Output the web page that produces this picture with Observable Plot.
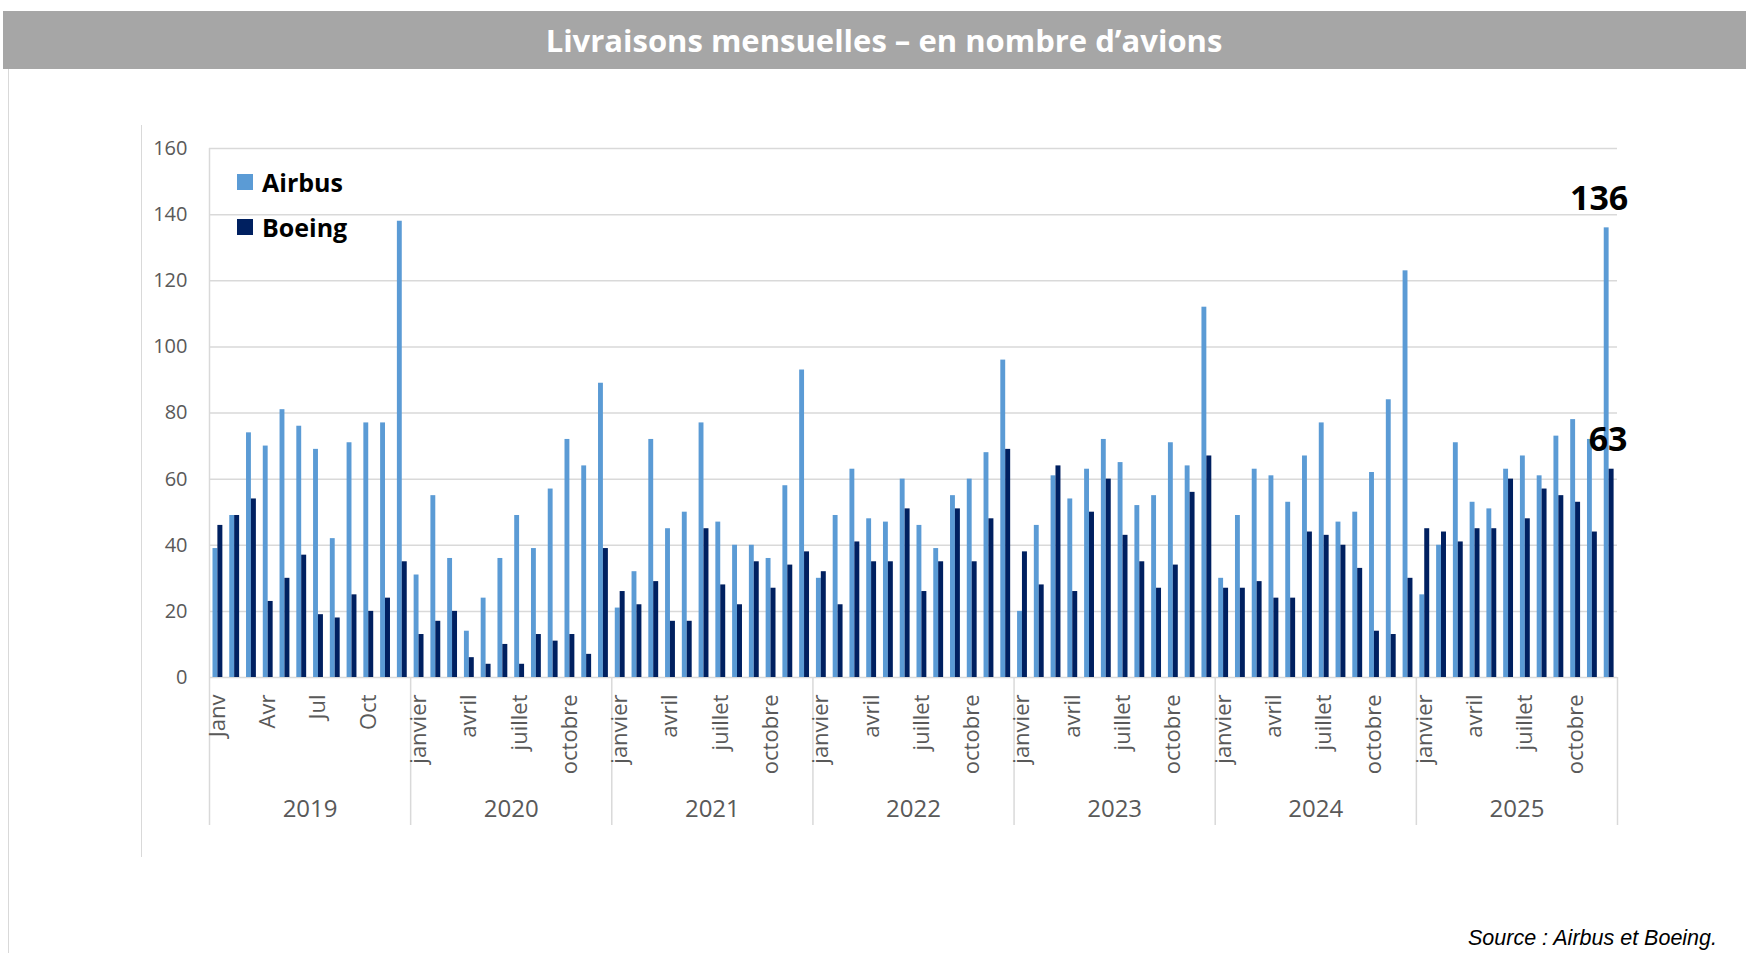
<!DOCTYPE html>
<html>
<head>
<meta charset="utf-8">
<script src="https://cdn.jsdelivr.net/npm/d3@7"></script>
<script src="https://cdn.jsdelivr.net/npm/@observablehq/plot@0.6"></script>
<style>
  html, body { margin: 0; padding: 0; background: #fff; }
  body { width: 1746px; height: 953px; position: relative; overflow: hidden; }
  #title { position: absolute; left: 3px; top: 11px; width: 1743px; height: 58px; background: #a6a6a6;
    color: #fff; font-family: "Open Sans", sans-serif; font-weight: 700; font-size: 31px;
    display: flex; align-items: center; justify-content: center; box-sizing: border-box; padding-left: 19px; }
  #chart { position: absolute; left: 0; top: 0; }
  .vline { position: absolute; width: 1px; background: #d9d9d9; }
  #legend { position: absolute; left: 237px; top: 169px; font-family: "Open Sans", sans-serif; font-weight: 700; font-size: 25px; color: #000; }
  .item { display: flex; align-items: center; height: 25px; margin-bottom: 20px; }
  .sw { width: 16px; height: 16px; margin-right: 9px; }
  #source { position: absolute; right: 29px; top: 926px; font-family: "Liberation Sans", Arial, sans-serif; font-style: italic; font-size: 21.5px; color: #000; }
</style>
</head>
<body>
<div class="vline" style="left:8px; top:69px; height:884px;"></div>
<div class="vline" style="left:141px; top:125px; height:732px;"></div>
<div id="chart"></div>
<div id="title">Livraisons mensuelles – en nombre d’avions</div>
<div id="legend"></div>
<div id="source">Source : Airbus et Boeing.</div>
<script>
// ---- Data ----
const years = [2019, 2020, 2021, 2022, 2023, 2024, 2025];
const seriesNames = ["Airbus", "Boeing"];
const seriesColors = ["#5b9bd5", "#002060"];

const airbus2019 = [39, 49, 74, 70, 81, 76, 69, 42, 71, 77, 77, 138];
const boeing2019 = [46, 49, 54, 23, 30, 37, 19, 18, 25, 20, 24, 35];
const airbus2020 = [31, 55, 36, 14, 24, 36, 49, 39, 57, 72, 64, 89];
const boeing2020 = [13, 17, 20, 6, 4, 10, 4, 13, 11, 13, 7, 39];
const airbus2021 = [21, 32, 72, 45, 50, 77, 47, 40, 40, 36, 58, 93];
const boeing2021 = [26, 22, 29, 17, 17, 45, 28, 22, 35, 27, 34, 38];
const airbus2022 = [30, 49, 63, 48, 47, 60, 46, 39, 55, 60, 68, 96];
const boeing2022 = [32, 22, 41, 35, 35, 51, 26, 35, 51, 35, 48, 69];
const airbus2023 = [20, 46, 61, 54, 63, 72, 65, 52, 55, 71, 64, 112];
const boeing2023 = [38, 28, 64, 26, 50, 60, 43, 35, 27, 34, 56, 67];
const airbus2024 = [30, 49, 63, 61, 53, 67, 77, 47, 50, 62, 84, 123];
const boeing2024 = [27, 27, 29, 24, 24, 44, 43, 40, 33, 14, 13, 30];
const airbus2025 = [25, 40, 71, 53, 51, 63, 67, 61, 73, 78, 72, 136];
const boeing2025 = [45, 44, 41, 45, 45, 60, 48, 57, 55, 53, 44, 63];

const airbusByYear = [airbus2019, airbus2020, airbus2021, airbus2022, airbus2023, airbus2024, airbus2025];
const boeingByYear = [boeing2019, boeing2020, boeing2021, boeing2022, boeing2023, boeing2024, boeing2025];

const yTicks = [0, 20, 40, 60, 80, 100, 120, 140, 160];
const labeledMonths = [1, 4, 7, 10];
const monthLabels2019 = ["Janv", "Avr", "Jul", "Oct"];
const monthLabels = ["janvier", "avril", "juillet", "octobre"];
const annotatedYear = 2025;
const annotatedMonth = 12;

// ---- Build tables ----
const keyOf = (y, m) => `${y}-${String(m).padStart(2, "0")}`;
const keys = [];
years.forEach(y => { for (let m = 1; m <= 12; m++) keys.push(keyOf(y, m)); });

const airbusRows = [], boeingRows = [];
years.forEach((y, i) => {
  airbusByYear[i].forEach((v, j) => airbusRows.push({key: keyOf(y, j + 1), value: v}));
  boeingByYear[i].forEach((v, j) => boeingRows.push({key: keyOf(y, j + 1), value: v}));
});
const monthTickRows = [];
years.forEach((y, i) => labeledMonths.forEach((m, j) =>
  monthTickRows.push({key: keyOf(y, m), label: (i === 0 ? monthLabels2019 : monthLabels)[j]})));
const yearStartKeys = years.map(y => keyOf(y, 1));
const lastKey = keys[keys.length - 1];
const annotKey = keyOf(annotatedYear, annotatedMonth);
const airbusAnnot = airbusRows.filter(d => d.key === annotKey);
const boeingAnnot = boeingRows.filter(d => d.key === annotKey);

// ---- Layout ----
const W = 1746, H = 953, mL = 209, mR = 129, mT = 148, mB = 276;
const bw = (W - mL - mR) / keys.length;
const grid = "#d9d9d9", tickColor = "#595959";

const chart = Plot.plot({
  width: W, height: H,
  marginTop: mT, marginBottom: mB, marginLeft: mL, marginRight: mR,
  style: {fontFamily: "'Open Sans', sans-serif", fontSize: "20px", color: tickColor, background: "transparent", overflow: "visible"},
  x: {type: "band", domain: keys, padding: 0, axis: null},
  y: {domain: [0, 160], ticks: yTicks, tickSize: 0, tickPadding: 22, label: null},
  marks: [
    Plot.ruleY(yTicks, {stroke: grid, strokeWidth: 1.5}),
    Plot.barY(airbusRows, {x: "key", y: "value", fill: seriesColors[0], insetLeft: 3.5, insetRight: bw / 2}),
    Plot.barY(boeingRows, {x: "key", y: "value", fill: seriesColors[1], insetLeft: bw / 2, insetRight: 3.4}),
    Plot.ruleX([keys[0]], {dx: -bw / 2, stroke: grid, strokeWidth: 1.5}),
    Plot.ruleX(yearStartKeys, {x: d => d, y1: 0, y2: 0, insetBottom: -148, dx: -bw / 2, stroke: grid, strokeWidth: 1.5}),
    Plot.ruleX([lastKey], {x: d => d, y1: 0, y2: 0, insetBottom: -148, dx: bw / 2, stroke: grid, strokeWidth: 1.5}),
    Plot.text(monthTickRows, {x: "key", y: 0, text: "label", rotate: -90, textAnchor: "end", dy: 17, fontSize: 22, fill: tickColor}),
    Plot.text(years, {x: y => keyOf(y, 6), y: 0, text: y => String(y), dx: bw / 2, dy: 132, fontSize: 24, fill: tickColor}),
    Plot.text(airbusAnnot, {x: "key", y: "value", text: d => String(d.value), dx: -10, dy: -29, fontSize: 34, fontWeight: "bold", fill: "#000"}),
    Plot.text(boeingAnnot, {x: "key", y: "value", text: d => String(d.value), dx: -1, dy: -29, fontSize: 34, fontWeight: "bold", fill: "#000"})
  ]
});
document.getElementById("chart").appendChild(chart);

// ---- Legend ----
const legend = document.getElementById("legend");
seriesNames.forEach((name, i) => {
  const item = document.createElement("div");
  item.className = "item";
  const sw = document.createElement("div");
  sw.className = "sw";
  sw.style.background = seriesColors[i];
  const label = document.createElement("span");
  label.textContent = name;
  item.appendChild(sw);
  item.appendChild(label);
  legend.appendChild(item);
});
</script>
</body>
</html>
